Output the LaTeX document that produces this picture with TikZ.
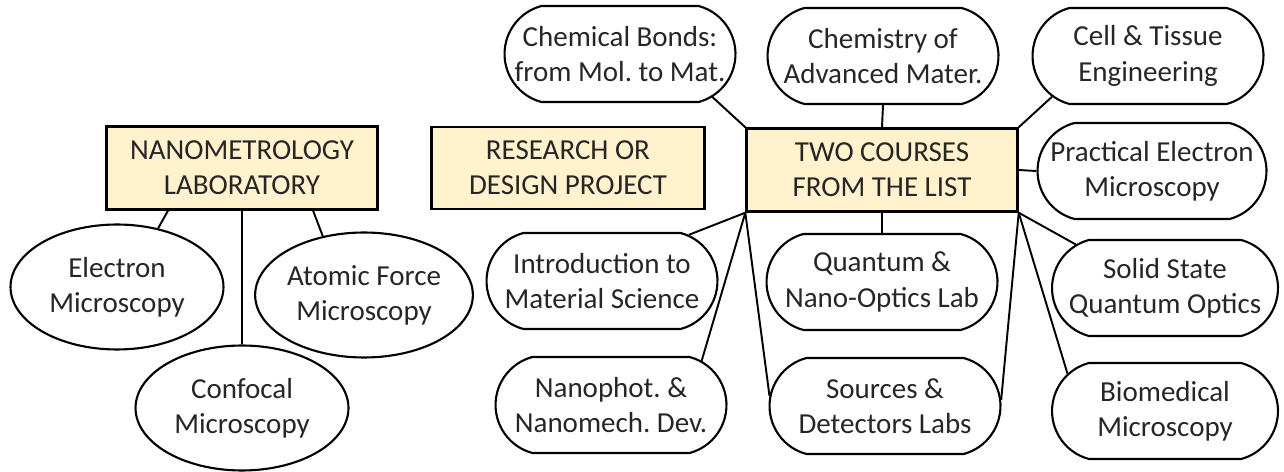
\documentclass[tikz,border=0pt]{standalone}
\usepackage{fontspec}
\setmainfont{Carlito}
\usetikzlibrary{shapes.geometric,shapes.misc}
\definecolor{boxfill}{HTML}{FFF2CC}
\frenchspacing
\begin{document}
\begin{tikzpicture}[x=0.02cm,y=-0.02cm,
    yellowbox/.style={draw,line width=1.4pt,fill=boxfill,text=black!85,align=center,
        minimum width=5.42cm,minimum height=1.66cm,inner sep=0pt,
        font=\fontsize{16.5}{20}\selectfont},
    oval/.style={draw,line width=1.2pt,ellipse,text=black!85,align=center,
        minimum width=4.26cm,minimum height=2.5cm,inner sep=0pt,
        font=\fontsize{16.5}{20}\selectfont},
    course/.style={draw,line width=1.2pt,rounded rectangle,rounded rectangle arc length=150,
        text=black!85,align=center,minimum width=4.62cm,minimum height=1.92cm,inner sep=0pt,
        font=\fontsize{16.5}{20}\selectfont},
    link/.style={line width=1.1pt}]
    \useasboundingbox (0,0) rectangle (1284,472);

    % Nanometrology lab
    \node[yellowbox] (nanolab) at (242,168) {NANOMETROLOGY\\LABORATORY};
    \node[oval] (electron) at (117,287) {Electron\\Microscopy};
    \node[oval] (confocal) at (242,408) {Confocal\\Microscopy};
    \node[oval] (afm) at (364,295) {Atomic Force\\Microscopy};
    \draw[link] (nanolab.210) -- (electron.55);
    \draw[link] (nanolab.south) -- (confocal.north);
    \draw[link] (nanolab.-31) -- (afm.125);

    % Project
    \node[yellowbox,minimum width=5.46cm,minimum height=1.64cm] (project) at (568,168) {RESEARCH OR\\DESIGN PROJECT};

    % Courses
    \node[yellowbox] (courses) at (882,170) {TWO COURSES\\FROM THE LIST};
    \node[course] (bonds) at (620,54) {Chemical Bonds:\\from Mol. to Mat.};
    \node[course] (advmat) at (883,56) {Chemistry of\\Advanced Mater.};
    \node[course] (tissue) at (1148,56) {Cell \& Tissue\\Engineering};
    \node[course,minimum width=4.58cm] (practical) at (1152,171) {Practical Electron\\Microscopy};
    \node[course] (intro) at (602,281) {Introduction to\\Material Science};
    \node[course] (quantum) at (882,282) {Quantum \&\\Nano-Optics Lab};
    \node[course,minimum width=4.52cm] (solid) at (1165,288) {Solid State\\Quantum Optics};
    \node[course] (nanodev) at (611,405) {Nanophot. \&\\Nanomech. Dev.};
    \node[course] (sources) at (885,406) {Sources \&\\Detectors Labs};
    \node[course,minimum width=4.52cm] (biomed) at (1165,411) {Biomedical\\Microscopy};

    % Links to the courses
    \draw[link] (bonds.-25) -- (courses.north west);
    \draw[link] (advmat.south) -- (courses.north);
    \draw[link] (tissue.-157) -- (courses.north east);
    \draw[link] (practical.west) -- (courses.east);
    \draw[link] (intro.28) -- (courses.south west);
    \draw[link] (nanodev.26) -- (courses.south west);
    \draw[link] (sources.175) -- (courses.south west);
    \draw[link] (quantum.north) -- (courses.south);
    \draw[link] (sources.3) -- (courses.south east);
    \draw[link] (solid.154) -- (courses.south east);
    \draw[link] (biomed.159) -- (courses.south east);
\end{tikzpicture}
\end{document}
